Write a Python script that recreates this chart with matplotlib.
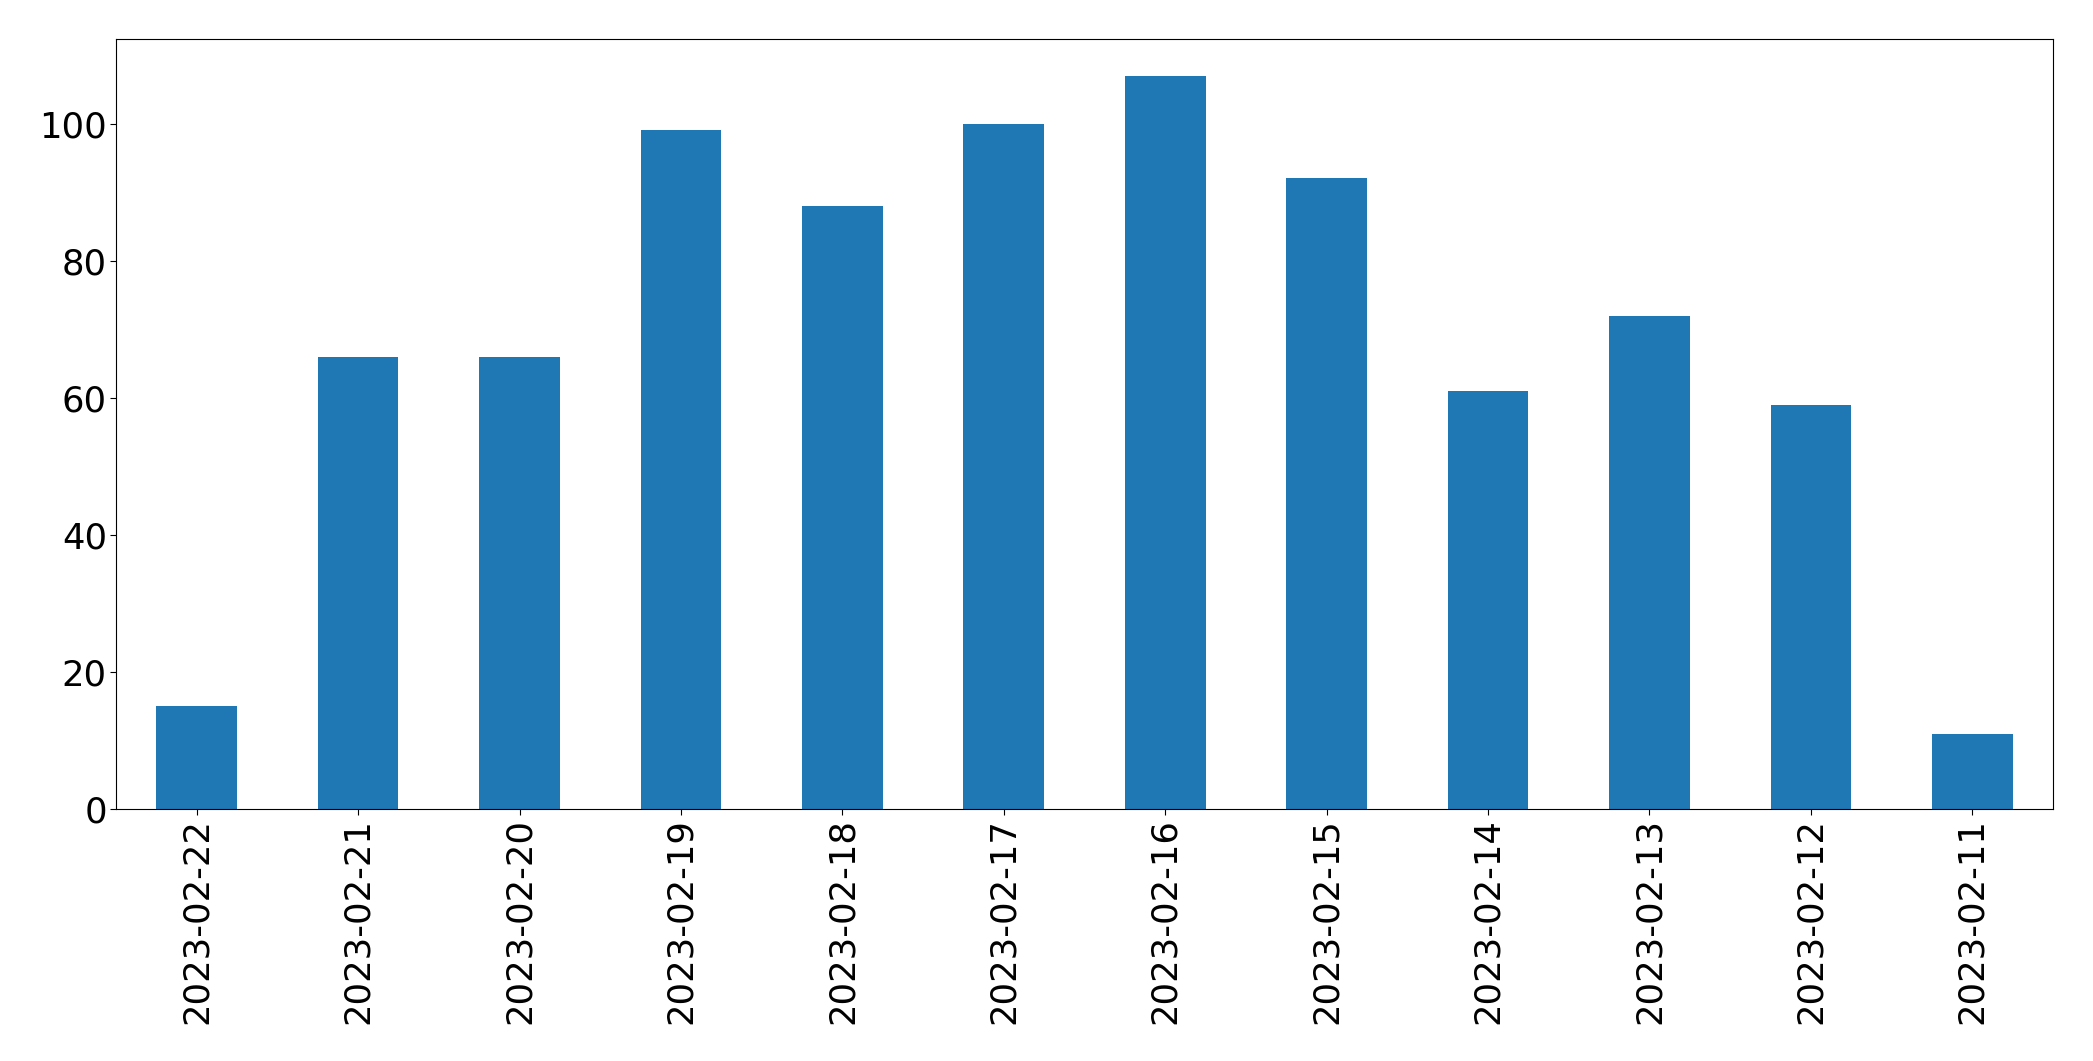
import matplotlib
matplotlib.use("Agg")
import matplotlib.pyplot as plt
import numpy as np

dates = ["2023-02-22", "2023-02-21", "2023-02-20", "2023-02-19", "2023-02-18",
         "2023-02-17", "2023-02-16", "2023-02-15", "2023-02-14", "2023-02-13",
         "2023-02-12", "2023-02-11"]
counts = [15, 66, 66, 99, 88, 100, 107, 92, 61, 72, 59, 11]

W, H = 2093, 1061
fig = plt.figure(figsize=(W / 100, H / 100), dpi=100)
ax = fig.add_axes([116 / W, 1 - 809 / H, (2053 - 116) / W, (809 - 39) / H])

x = np.arange(len(dates))
ax.bar(x, counts, width=0.5, color="#1f77b4")
ax.set_xlim(-0.5, len(dates) - 0.5)
ax.set_ylim(0, 112.35)
ax.set_xticks(x)
ax.set_xticklabels(dates, rotation=90)
ax.set_yticks([0, 20, 40, 60, 80, 100])
ax.tick_params(axis="both", labelsize=25.5, length=4.5, pad=2.0, colors="black")
for s in ax.spines.values():
    s.set_color("black")

fig.savefig("out.png", dpi=100)
